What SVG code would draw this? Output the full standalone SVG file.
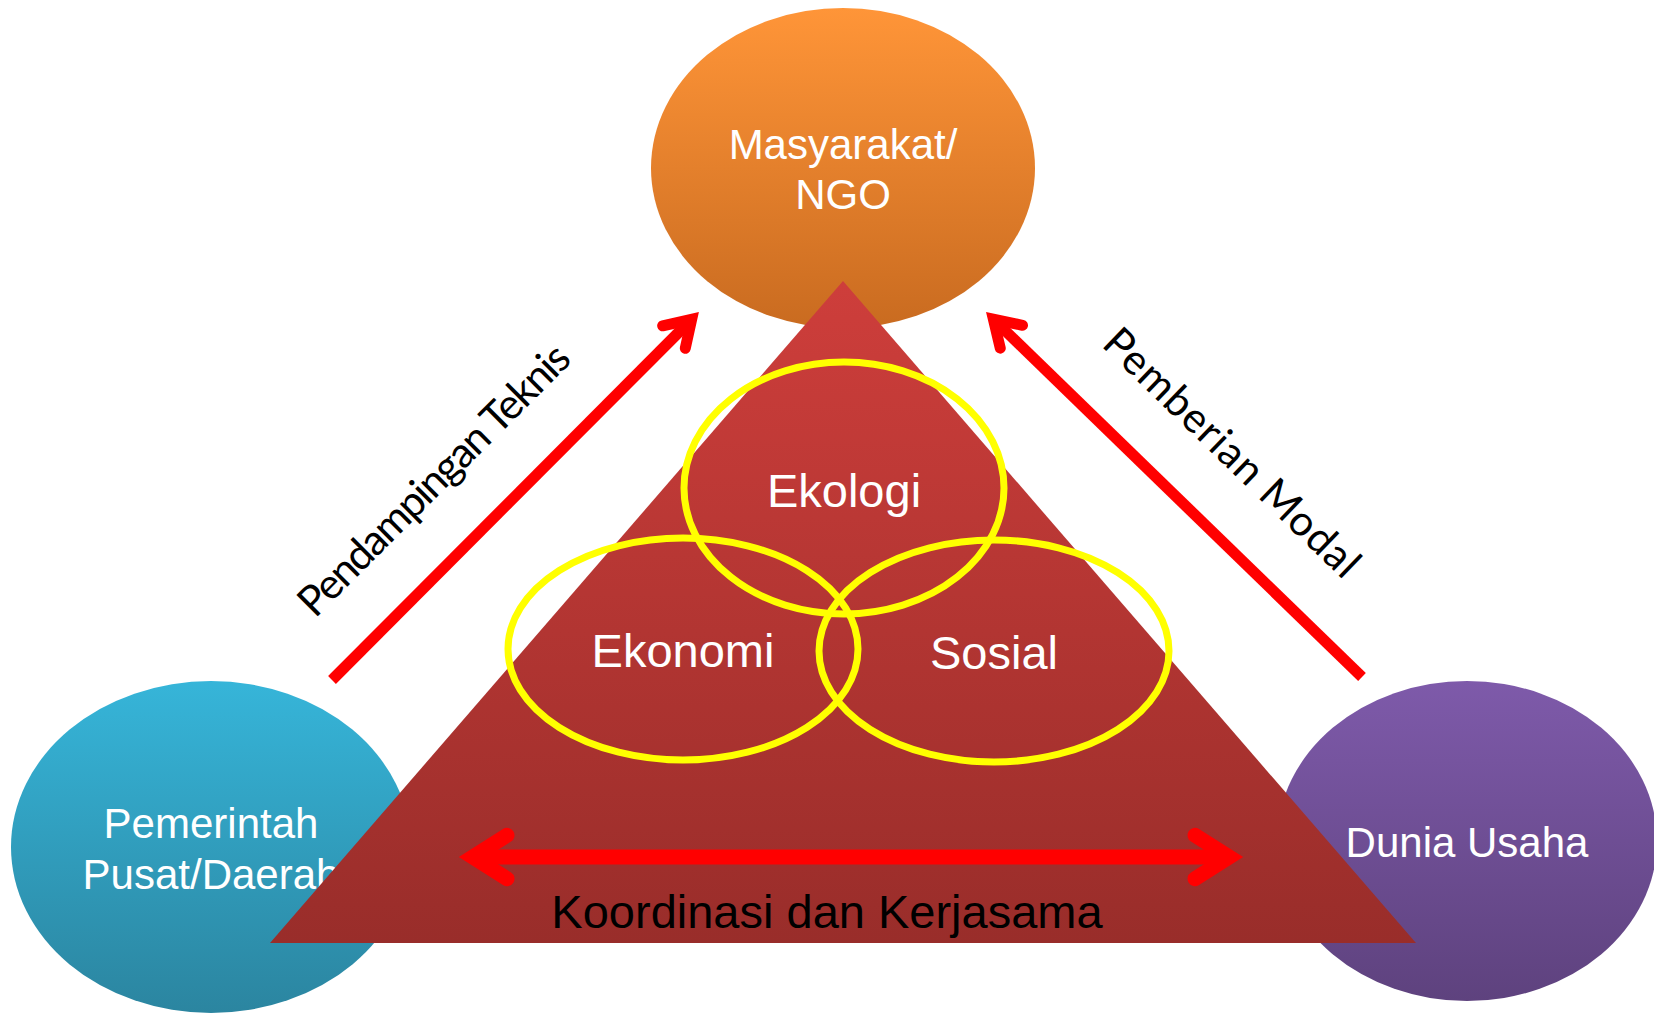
<svg xmlns="http://www.w3.org/2000/svg" width="1654" height="1016" viewBox="0 0 1654 1016">
  <defs>
    <linearGradient id="gOrange" x1="0" y1="0" x2="0" y2="1">
      <stop offset="0" stop-color="#FF9538"/>
      <stop offset="1" stop-color="#C96B20"/>
    </linearGradient>
    <linearGradient id="gBlue" x1="0" y1="0" x2="0" y2="1">
      <stop offset="0" stop-color="#36B5D9"/>
      <stop offset="1" stop-color="#2B85A0"/>
    </linearGradient>
    <linearGradient id="gPurple" x1="0" y1="0" x2="0" y2="1">
      <stop offset="0" stop-color="#7E5AAA"/>
      <stop offset="1" stop-color="#5E427E"/>
    </linearGradient>
    <linearGradient id="gRed" x1="0" y1="0" x2="0" y2="1">
      <stop offset="0" stop-color="#CE3E3B"/>
      <stop offset="1" stop-color="#992D2A"/>
    </linearGradient>
    <marker id="head" markerUnits="strokeWidth" orient="auto-start-reverse" refX="0" refY="0" markerWidth="8" markerHeight="8" viewBox="-4 -4 8 8" overflow="visible">
      <path d="M -2.0 -1.45 L 0.28 0 L -2.0 1.45" fill="none" stroke="#FF0000" stroke-width="1" stroke-linecap="round" stroke-linejoin="miter"/>
    </marker>
  </defs>
  <style>
    .node-label { font-family: "Liberation Sans", Arial, sans-serif; fill: #FFFFFF; text-anchor: middle; }
    .big { font-size: 42px; }
    .inner { font-size: 47px; }
    .ring { fill: none; stroke: #FFFF00; stroke-width: 7; }
    .arrow { fill: none; stroke: #FF0000; stroke-linecap: butt; }
    .edge-label { font-family: Lato, "Open Sans", sans-serif; font-size: 42px; fill: #000000; text-anchor: middle; }
    .base-label { font-family: "Liberation Sans", Arial, sans-serif; font-size: 47px; fill: #000000; text-anchor: middle; }
  </style>
  <rect x="0" y="0" width="1654" height="1016" fill="#FFFFFF"/>

  <g id="node-masyarakat">
    <ellipse cx="843" cy="168" rx="192" ry="160" fill="url(#gOrange)"/>
    <text class="node-label big" x="843" y="159">Masyarakat/</text>
    <text class="node-label big" x="843" y="209">NGO</text>
  </g>

  <g id="node-pemerintah">
    <ellipse cx="211" cy="847" rx="200" ry="166" fill="url(#gBlue)"/>
    <text class="node-label big" x="211" y="838">Pemerintah</text>
    <text class="node-label big" x="211" y="889">Pusat/Daerah</text>
  </g>

  <g id="node-dunia-usaha">
    <ellipse cx="1467" cy="841" rx="190" ry="160" fill="url(#gPurple)"/>
    <text class="node-label big" x="1467" y="857">Dunia Usaha</text>
  </g>

  <g id="node-pyramid">
    <polygon points="843,281 270,943 1416,943" fill="url(#gRed)"/>
  </g>

  <g id="node-ekologi">
    <ellipse class="ring" cx="844" cy="488" rx="160" ry="126"/>
    <text class="node-label inner" x="844" y="507">Ekologi</text>
  </g>

  <g id="node-ekonomi">
    <ellipse class="ring" cx="683" cy="649" rx="175" ry="111"/>
    <text class="node-label inner" x="683" y="667">Ekonomi</text>
  </g>

  <g id="node-sosial">
    <ellipse class="ring" cx="994" cy="651" rx="175" ry="111"/>
    <text class="node-label inner" x="994" y="669">Sosial</text>
  </g>

  <g id="connectors">
    <line class="arrow" x1="332" y1="680" x2="689.5" y2="321.5" stroke-width="11" marker-end="url(#head)"/>
    <line class="arrow" x1="1362" y1="677" x2="995.6" y2="321.4" stroke-width="11" marker-end="url(#head)"/>
    <line class="arrow" x1="477" y1="857" x2="1225" y2="857" stroke-width="15" marker-start="url(#head)" marker-end="url(#head)"/>
    <text class="edge-label" transform="translate(444,490) rotate(-45)" x="0" y="0" textLength="365">Pendampingan Teknis</text>
    <text class="edge-label" transform="translate(1222,463) rotate(44)" x="0" y="0" textLength="338">Pemberian Modal</text>
    <text class="base-label" x="827" y="928">Koordinasi dan Kerjasama</text>
  </g>
</svg>
